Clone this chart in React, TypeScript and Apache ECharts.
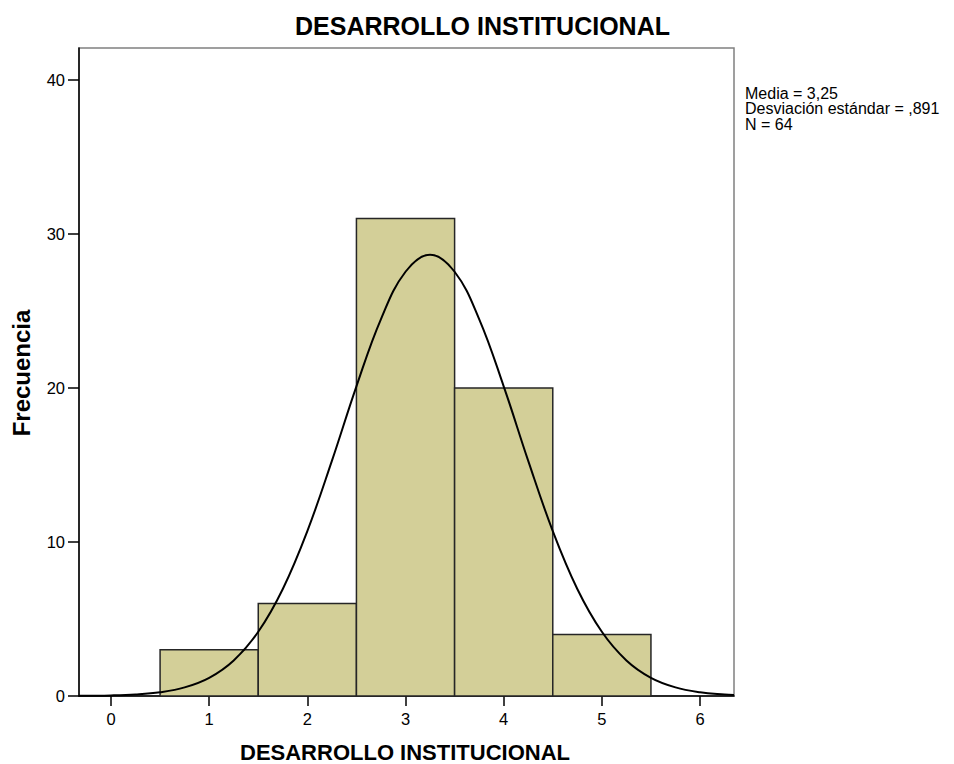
import React, { useEffect, useRef } from "react";
import * as echarts from "echarts";

const TITLE = "DESARROLLO INSTITUCIONAL";
const X_NAME = "DESARROLLO INSTITUCIONAL";
const Y_NAME = "Frecuencia";
const STATS = ["Media = 3,25", "Desviación estándar = ,891", "N = 64"];

// histogram bins
const binStart = [0.5, 1.5, 2.5, 3.5, 4.5];
const binEnd = [1.5, 2.5, 3.5, 4.5, 5.5];
const binCount = [3, 6, 31, 20, 4];

// normal curve points
const curveX = [-0.326, 0, 0.25, 0.5, 0.75, 1, 1.25, 1.5, 1.75, 2, 2.25, 2.5, 2.75, 3, 3.25, 3.5, 3.75, 4, 4.25, 4.5, 4.75, 5, 5.25, 5.5, 5.75, 6, 6.25, 6.346];
const curveY = [0.009, 0.037, 0.099, 0.245, 0.559, 1.18, 2.31, 4.17, 6.95, 10.71, 15.27, 20.11, 24.48, 27.55, 28.66, 27.55, 24.48, 20.11, 15.27, 10.71, 6.95, 4.17, 2.31, 1.18, 0.559, 0.245, 0.099, 0.068];

const xTicks = [0, 1, 2, 3, 4, 5, 6];
const yTicks = [0, 10, 20, 30, 40];

const FONT = "'Liberation Sans', Arial, sans-serif";

export default function App() {
  const ref = useRef<HTMLDivElement>(null);
  useEffect(() => {
    if (!ref.current) return;
    const chart = echarts.init(ref.current, undefined, { renderer: "svg" });
    const bins = binStart.map((s, i) => [s, binEnd[i], binCount[i]]);
    const curve = curveX.map((x, i) => [x, curveY[i]]);
    chart.setOption({
      animation: false,
      backgroundColor: "#ffffff",
      grid: {
        left: 79,
        right: 220,
        top: 48,
        bottom: 68,
        show: true,
        borderColor: "#808080",
        borderWidth: 1.5,
        backgroundColor: "transparent",
      },
      xAxis: {
        type: "value",
        min: -0.326,
        max: 6.346,
        interval: 1,
        splitLine: { show: false },
        axisLine: { show: true, onZero: false, lineStyle: { color: "#000", width: 1.5 } },
        axisTick: { show: true, length: 10, customValues: xTicks, lineStyle: { color: "#000", width: 1.5 } },
        axisLabel: { customValues: xTicks, margin: 14, fontSize: 16.5, color: "#000", fontFamily: FONT },
      },
      yAxis: {
        type: "value",
        min: 0,
        max: 42.08,
        interval: 10,
        splitLine: { show: false },
        axisLine: { show: true, onZero: false, lineStyle: { color: "#000", width: 1.5 } },
        axisTick: { show: true, length: 11, customValues: yTicks, lineStyle: { color: "#000", width: 1.5 } },
        axisLabel: { customValues: yTicks, margin: 14, fontSize: 16.5, color: "#000", fontFamily: FONT },
      },
      series: [
        {
          type: "custom",
          data: bins,
          encode: { x: [0, 1], y: 2 },
          renderItem: (params: any, api: any) => {
            const p0 = api.coord([api.value(0), api.value(2)]);
            const p1 = api.coord([api.value(1), 0]);
            return {
              type: "rect",
              shape: { x: p0[0], y: p0[1], width: p1[0] - p0[0], height: p1[1] - p0[1] },
              style: { fill: "#d3cf98", stroke: "#262626", lineWidth: 1.5 },
            };
          },
          z: 2,
        },
        {
          type: "line",
          data: curve,
          smooth: 0.4,
          showSymbol: false,
          symbol: "none",
          lineStyle: { color: "#000", width: 2 },
          z: 3,
        },
      ],
      graphic: [
        {
          type: "text",
          x: 482.5,
          y: 13.5,
          style: { text: TITLE, font: `bold 25px ${FONT}`, fill: "#000", textAlign: "center", textVerticalAlign: "top" },
        },
        {
          type: "text",
          x: 405,
          y: 741,
          style: { text: X_NAME, font: `bold 22px ${FONT}`, lineHeight: 22, fill: "#000", textAlign: "center", textVerticalAlign: "top" },
        },
        {
          type: "text",
          x: 21,
          y: 373,
          rotation: Math.PI / 2,
          style: { text: Y_NAME, font: `bold 24px ${FONT}`, fill: "#000", textAlign: "center", textVerticalAlign: "middle" },
        },
        ...STATS.map((t, i) => ({
          type: "text",
          x: 745,
          y: 93 + i * 15.6,
          style: { text: t, font: `16px ${FONT}`, lineHeight: 15, fill: "#000", textAlign: "left", textVerticalAlign: "middle" },
        })),
      ],
    });
    return () => chart.dispose();
  }, []);
  return <div ref={ref} style={{ position: "fixed", left: 0, top: 0, width: 954, height: 764 }} />;
}
